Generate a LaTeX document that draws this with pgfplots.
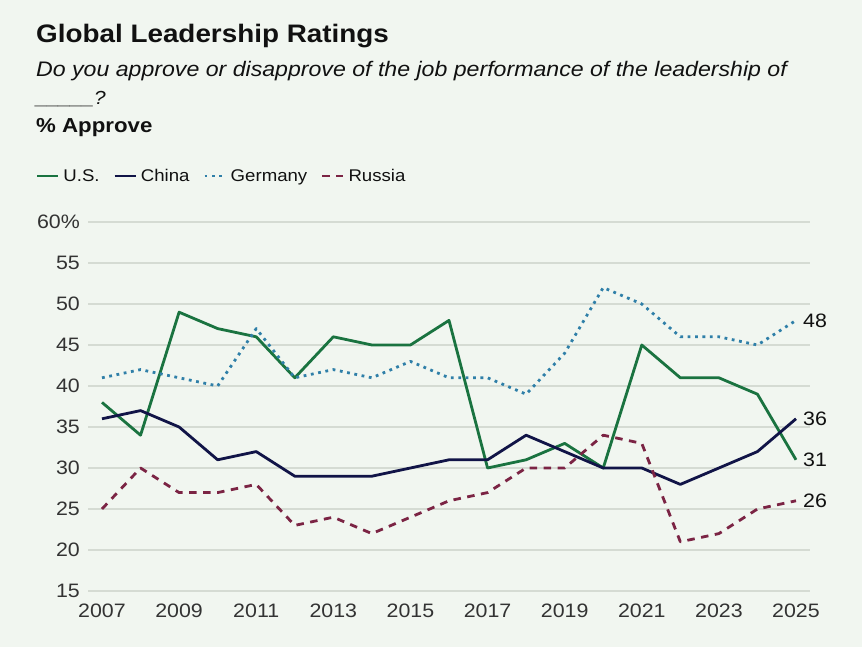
\documentclass[border=0pt]{standalone}
\usepackage{fontspec}
\setmainfont{Liberation Sans}[FakeStretch=1.1]
\usepackage{pgfplots}
\pgfplotsset{compat=1.18}
\usepackage{pgfplotstable}

\definecolor{bg}{HTML}{F1F6F0}
\definecolor{gridc}{HTML}{D5DBD3}
\definecolor{usc}{HTML}{1A7340}
\definecolor{chinac}{HTML}{111447}
\definecolor{gerc}{HTML}{2F7FA8}
\definecolor{rusc}{HTML}{7B2444}
\definecolor{txt}{HTML}{111111}
\definecolor{tick}{HTML}{333333}

% % approve by year
\pgfplotstableread{
year us china germany russia
2007 38 36 41 25
2008 34 37 42 30
2009 49 35 41 27
2010 47 31 40 27
2011 46 32 47 28
2012 41 29 41 23
2013 46 29 42 24
2014 45 29 41 22
2015 45 30 43 24
2016 48 31 41 26
2017 30 31 41 27
2018 31 34 39 30
2019 33 32 44 30
2020 30 30 52 34
2021 45 30 50 33
2022 41 28 46 21
2023 41 30 46 22
2024 39 32 45 25
2025 31 36 48 26
}\ratings

\begin{document}
\begin{tikzpicture}
\fill[bg] (-88bp,-56bp) rectangle (774bp,591bp);

\node[anchor=base west, text=txt, inner sep=0pt, font=\fontsize{25.4}{30}\selectfont\bfseries]
  at (-52bp,548bp) {Global Leadership Ratings};
\node[anchor=base west, text=txt, inner sep=0pt, font=\fontsize{21.1}{25}\selectfont\itshape]
  at (-52bp,514bp) {Do you approve or disapprove of the job performance of the leadership of};
\node[anchor=base west, text=txt, inner sep=0pt, font=\fontsize{19}{25}\selectfont\itshape]
  at (-52bp,486bp) {\_\_\_\_\_?};
\node[anchor=base west, text=txt, inner sep=0pt, font=\fontsize{20.3}{24}\selectfont\bfseries]
  at (-52bp,458bp) {\% Approve};

\begin{axis}[
  at={(0,0)}, anchor=south west,
  scale only axis,
  width=722bp, height=369bp,
  xmin=2006.637, xmax=2025.363,
  ymin=15, ymax=60,
  clip=false,
  axis line style={draw=none},
  major tick length=0pt,
  xtick={2007,2009,...,2025},
  xticklabels={2007,2009,2011,2013,2015,2017,2019,2021,2023,2025},
  ytick={15,20,...,60},
  yticklabels={15,20,25,30,35,40,45,50,55,60\%},
  ymajorgrids,
  grid style={gridc, line width=1.3bp},
  ticklabel style={font=\fontsize{19.5}{23}\selectfont, text=tick, inner sep=0pt},
  xticklabel style={yshift=-13bp},
  yticklabel style={xshift=-8bp},
  legend columns=4,
  legend style={
    at={(-52bp,415bp)}, anchor=west,
    draw=none, fill=none, inner sep=0pt,
    font=\fontsize{17}{21}\selectfont, text=txt,
    nodes={inner sep=0pt, anchor=west},
    /tikz/every odd column/.append style={column sep=4bp},
    /tikz/every even column/.append style={column sep=14bp},
  },
  legend image code/.code={\draw[#1, line width=2.2bp] (0bp,0bp) -- (21bp,0bp);},
  every axis plot/.append style={line join=round},
]
\addplot[usc, line width=2.8bp] table[x=year, y=us] {\ratings};
\addlegendentry{U.S.}
\addplot[chinac, line width=2.8bp] table[x=year, y=china] {\ratings};
\addlegendentry{China}
\addplot[gerc, line width=2.8bp, dash pattern=on 2.8bp off 4.6bp] table[x=year, y=germany] {\ratings};
\addlegendentry{Germany}
\addplot[rusc, line width=2.8bp, dash pattern=on 7.5bp off 6.5bp] table[x=year, y=russia] {\ratings};
\addlegendentry{Russia}

% end-of-line values
\node[anchor=west, text=txt, inner sep=0pt, font=\fontsize{19.5}{23}\selectfont] at (axis cs:2025,48) [xshift=7bp] {48};
\node[anchor=west, text=txt, inner sep=0pt, font=\fontsize{19.5}{23}\selectfont] at (axis cs:2025,36) [xshift=7bp] {36};
\node[anchor=west, text=txt, inner sep=0pt, font=\fontsize{19.5}{23}\selectfont] at (axis cs:2025,31) [xshift=7bp] {31};
\node[anchor=west, text=txt, inner sep=0pt, font=\fontsize{19.5}{23}\selectfont] at (axis cs:2025,26) [xshift=7bp] {26};
\end{axis}

\pgfresetboundingbox
\path (-88bp,-56bp) rectangle (774bp,591bp);
\end{tikzpicture}
\end{document}
